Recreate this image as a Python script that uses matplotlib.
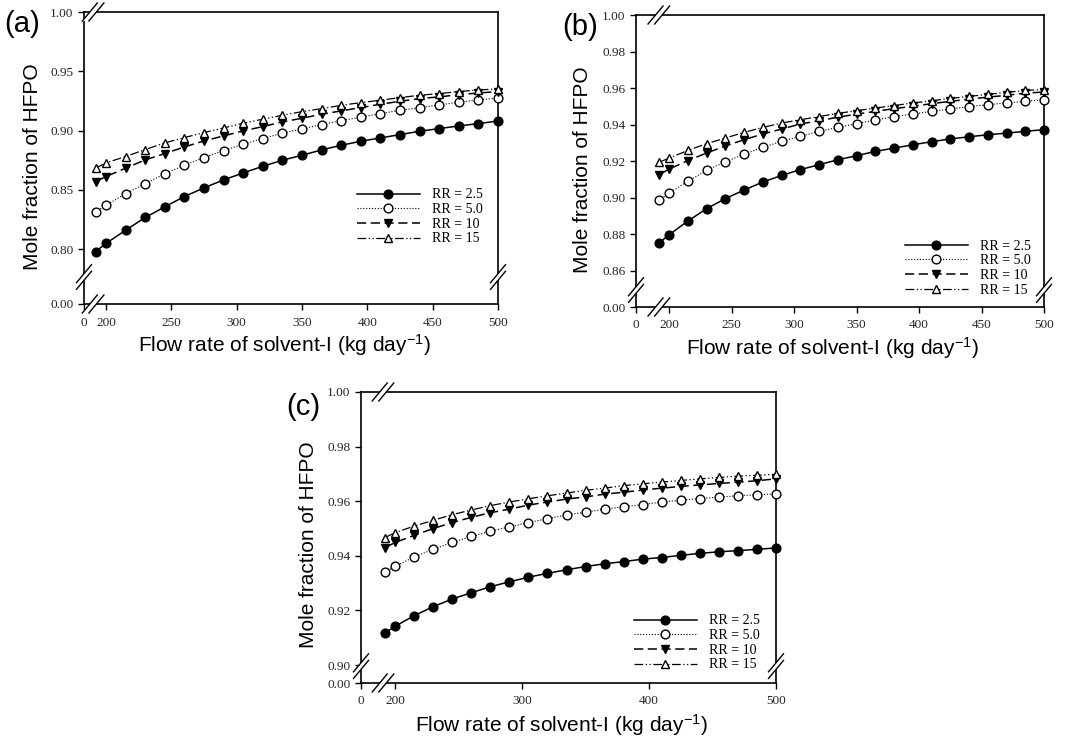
import numpy as np
import matplotlib
matplotlib.use("Agg")
import matplotlib.pyplot as plt
from matplotlib.lines import Line2D
from matplotlib.patches import Polygon

plt.rcParams["mathtext.fontset"] = "custom"
plt.rcParams["mathtext.rm"] = "Liberation Sans"
plt.rcParams["mathtext.it"] = "Liberation Sans:italic"

# Solvent-I flow rate (kg/day)
flow = [192, 200, 215, 230, 245, 260, 275, 290, 305, 320, 335, 350,
        365, 380, 395, 410, 425, 440, 455, 470, 485, 500]

# Panel (a)
a_rr25 = [0.7980, 0.8048, 0.8160, 0.8267, 0.8357, 0.8444, 0.8517, 0.8584, 0.8643, 0.8699, 0.8750,
          0.8792, 0.8837, 0.8876, 0.8910, 0.8938, 0.8966, 0.8994, 0.9017, 0.9039, 0.9059, 0.9081]
a_rr50 = [0.8312, 0.8371, 0.8466, 0.8553, 0.8635, 0.8708, 0.8772, 0.8831, 0.8885, 0.8933, 0.8978,
          0.9014, 0.9051, 0.9084, 0.9112, 0.9143, 0.9171, 0.9194, 0.9216, 0.9239, 0.9258, 0.9275]
a_rr10 = [0.8570, 0.8612, 0.8683, 0.8753, 0.8806, 0.8862, 0.8913, 0.8955, 0.8997, 0.9034, 0.9073,
          0.9104, 0.9138, 0.9166, 0.9194, 0.9222, 0.9247, 0.9270, 0.9284, 0.9303, 0.9317, 0.9329]
a_rr15 = [0.8683, 0.8728, 0.8781, 0.8840, 0.8896, 0.8941, 0.8983, 0.9022, 0.9062, 0.9096, 0.9129,
          0.9160, 0.9185, 0.9213, 0.9236, 0.9256, 0.9278, 0.9298, 0.9312, 0.9329, 0.9343, 0.9351]

# Panel (b)
b_rr25 = [0.8751, 0.8796, 0.8871, 0.8939, 0.8994, 0.9041, 0.9085, 0.9121, 0.9153, 0.9180, 0.9207,
          0.9229, 0.9253, 0.9271, 0.9289, 0.9306, 0.9321, 0.9333, 0.9344, 0.9353, 0.9363, 0.9372]
b_rr50 = [0.8984, 0.9025, 0.9089, 0.9149, 0.9196, 0.9237, 0.9275, 0.9308, 0.9335, 0.9363, 0.9384,
          0.9405, 0.9425, 0.9443, 0.9458, 0.9472, 0.9485, 0.9498, 0.9509, 0.9518, 0.9527, 0.9537]
b_rr10 = [0.9125, 0.9156, 0.9202, 0.9244, 0.9282, 0.9317, 0.9348, 0.9375, 0.9403, 0.9421, 0.9440,
          0.9457, 0.9472, 0.9487, 0.9500, 0.9514, 0.9527, 0.9539, 0.9550, 0.9560, 0.9572, 0.9578]
b_rr15 = [0.9193, 0.9216, 0.9258, 0.9295, 0.9326, 0.9357, 0.9384, 0.9408, 0.9426, 0.9444, 0.9461,
          0.9476, 0.9490, 0.9504, 0.9518, 0.9530, 0.9543, 0.9554, 0.9565, 0.9576, 0.9587, 0.9591]

# Panel (c)
c_rr25 = [0.9118, 0.9142, 0.9181, 0.9214, 0.9242, 0.9265, 0.9287, 0.9305, 0.9322, 0.9336, 0.9349,
          0.9361, 0.9371, 0.9379, 0.9388, 0.9394, 0.9402, 0.9409, 0.9415, 0.9419, 0.9424, 0.9429]
c_rr50 = [0.9340, 0.9362, 0.9396, 0.9424, 0.9449, 0.9471, 0.9490, 0.9506, 0.9522, 0.9536, 0.9550,
          0.9560, 0.9571, 0.9580, 0.9588, 0.9597, 0.9604, 0.9610, 0.9615, 0.9620, 0.9624, 0.9627]
c_rr10 = [0.9430, 0.9449, 0.9475, 0.9500, 0.9522, 0.9541, 0.9558, 0.9571, 0.9586, 0.9597, 0.9608,
          0.9616, 0.9626, 0.9633, 0.9641, 0.9648, 0.9654, 0.9660, 0.9665, 0.9670, 0.9675, 0.9682]
c_rr15 = [0.9467, 0.9485, 0.9509, 0.9530, 0.9551, 0.9568, 0.9584, 0.9597, 0.9609, 0.9620, 0.9630,
          0.9640, 0.9648, 0.9657, 0.9664, 0.9670, 0.9676, 0.9682, 0.9687, 0.9692, 0.9695, 0.9699]

series_labels = ["RR = 2.5", "RR = 5.0", "RR = 10", "RR = 15"]

a_yticks = [0.00, 0.80, 0.85, 0.90, 0.95, 1.00]
b_yticks = [0.00, 0.86, 0.88, 0.90, 0.92, 0.94, 0.96, 0.98, 1.00]
c_yticks = [0.00, 0.90, 0.92, 0.94, 0.96, 0.98, 1.00]
ab_xticks = [0, 200, 250, 300, 350, 400, 450, 500]
c_xticks = [0, 200, 300, 400, 500]

W, H = 1067, 738
fig = plt.figure(figsize=(W / 100, H / 100), dpi=100)

SERIF = "Liberation Serif"
SANS = "Liberation Sans"
TICKCOL = "#262626"

styles = [
    dict(ls="-", lw=1.1, marker="o", mfc="black", mec="black"),
    dict(ls=(0, (1, 1.6)), lw=0.8, marker="o", mfc="white", mec="black"),
    dict(ls=(0, (6, 3)), lw=1.1, marker="v", mfc="black", mec="black"),
    dict(ls=(0, (7, 2, 1, 2, 1, 2)), lw=0.9, marker="^", mfc="white", mec="black"),
]


def broken_scale(lo, d):
    """Squeeze the interval [0, lo] into a thin sliver just below lo."""
    def fwd(v):
        v = np.asarray(v, dtype=float)
        return np.where(v < lo, lo - d + v / lo * d, v)

    def inv(u):
        u = np.asarray(u, dtype=float)
        return np.where(u < lo, (u - (lo - d)) / d * lo, u)
    return fwd, inv


def to_fig(px, py):
    return fig.transFigure.inverted().transform((px, py))


def break_mark(ax, xf, yf, vertical):
    """Draw a '//' axis-break symbol on a spine, at axes fraction (xf, yf)."""
    cx, cy = ax.transAxes.transform((xf, yf))
    hx, hy, g = 7.5, 9.0, 3.3
    if vertical:
        offs = [(0, -g), (0, g)]
    else:
        offs = [(-g, 0), (g, 0)]
    segs = []
    for ox, oy in offs:
        p0 = (cx - hx + ox, cy - hy + oy)
        p1 = (cx + hx + ox, cy + hy + oy)
        segs.append((p0, p1))
    poly = [segs[0][0], segs[0][1], segs[1][1], segs[1][0]]
    poly_f = [to_fig(*p) for p in poly]
    fig.patches.append(Polygon(poly_f, closed=True, facecolor="white", edgecolor="none",
                               transform=fig.transFigure, zorder=10))
    for p0, p1 in segs:
        f0, f1 = to_fig(*p0), to_fig(*p1)
        fig.lines.append(Line2D([f0[0], f1[0]], [f0[1], f1[1]], color="black", lw=1.0,
                                transform=fig.transFigure, zorder=11))


def make_panel(box, series, xlo, ylo, yticks, xticks, ybrk, xbrk, leg_xy, ylab_xy, xlab_xy,
               tag, tag_xy):
    l, r, t, b = box
    ax = fig.add_axes([l / W, (H - b) / H, (r - l) / W, (b - t) / H])
    ax.set_xscale("function", functions=broken_scale(xlo, 0.05))
    ax.set_yscale("function", functions=broken_scale(ylo, 0.00005))
    handles = []
    for vals, st, lab in zip(series, styles, series_labels):
        h, = ax.plot(flow, vals, linestyle=st["ls"], lw=st["lw"], color="black",
                     marker=st["marker"], ms=6.3, mfc=st["mfc"], mec=st["mec"], mew=1.0,
                     label=lab, clip_on=False, zorder=3)
        handles.append(h)
    ax.set_xlim(0, 500)
    ax.set_ylim(0, 1.0)
    ax.set_xticks(xticks)
    ax.set_xticklabels([f"{v:d}" for v in xticks])
    ax.set_yticks(yticks)
    ax.set_yticklabels([f"{v:.2f}" for v in yticks])
    ax.minorticks_off()
    ax.tick_params(which="both", direction="out", length=4, width=1.0,
                   top=False, right=False, labelsize=9.5, labelcolor=TICKCOL, pad=3.5)
    ax.tick_params(axis="x", pad=5)
    for lab in ax.get_xticklabels() + ax.get_yticklabels():
        lab.set_fontfamily(SERIF)
    for sp in ax.spines.values():
        sp.set_linewidth(1.2)

    # axis-break symbols
    break_mark(ax, 0.0, ybrk, True)
    break_mark(ax, 1.0, ybrk, True)
    break_mark(ax, xbrk, 0.0, False)
    break_mark(ax, xbrk, 1.0, False)

    lx, ly = to_fig(leg_xy[0], H - leg_xy[1] + 4.5)
    ax.legend(handles=handles, loc="upper left", bbox_to_anchor=(lx, ly),
              bbox_transform=fig.transFigure, frameon=False, borderpad=0,
              borderaxespad=0, handlelength=4.5, handletextpad=0.9, labelspacing=0.12,
              prop={"family": SERIF, "size": 10})

    fx, fy = to_fig(ylab_xy[0], H - ylab_xy[1])
    fig.text(fx, fy, "Mole fraction of HFPO", rotation=90, ha="center", va="center",
             family=SANS, fontsize=15)
    fx, fy = to_fig(xlab_xy[0], H - xlab_xy[1])
    fig.text(fx, fy, "Flow rate of solvent-I (kg day$^{-1}$)", ha="center", va="center",
             family=SANS, fontsize=15)
    fx, fy = to_fig(tag_xy[0], H - tag_xy[1])
    fig.text(fx, fy, tag, ha="center", va="center", family=SANS, fontsize=21)
    return ax


make_panel((84, 498, 12, 304), [a_rr25, a_rr50, a_rr10, a_rr15], 183.2, 0.7538,
           a_yticks, ab_xticks, 0.0925, 0.022, (357, 193), (33, 167), (285, 345),
           "(a)", (22, 24))
make_panel((636, 1044, 15, 307), [b_rr25, b_rr50, b_rr10, b_rr15], 173.6, 0.8401,
           b_yticks, ab_xticks, 0.058, 0.056, (905, 244), (582, 170), (833, 348),
           "(b)", (580, 27))
make_panel((361, 776, 392, 683), [c_rr25, c_rr50, c_rr10, c_rr15], 173.2, 0.8935,
           c_yticks, c_xticks, 0.058, 0.053, (634, 619), (309, 545), (562, 725),
           "(c)", (303, 407))

fig.savefig("out.png", dpi=100)
